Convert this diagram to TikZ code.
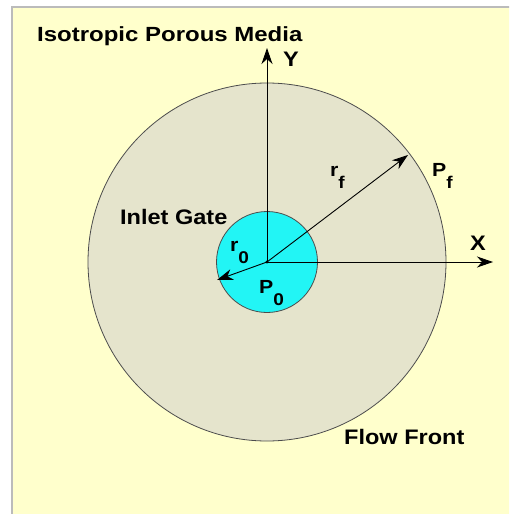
\documentclass[tikz,border=0pt]{standalone}
\usepackage{fontspec}
\setmainfont{Liberation Sans}
\newfontfamily\lblfont{Liberation Sans}[FakeStretch=1.12]
\newfontfamily\ttlfont{Liberation Sans}[FakeStretch=1.17]
\usetikzlibrary{arrows.meta}
\definecolor{bgyellow}{HTML}{FFFFCC}
\definecolor{frontfill}{HTML}{E5E4CC}
\definecolor{gatefill}{HTML}{22F5F5}
\definecolor{framegray}{HTML}{BBBBBB}
\tikzset{
  lbl/.style={font=\lblfont\bfseries\fontsize{21}{23}\selectfont, inner sep=0pt, anchor=base west},
  sym/.style={font=\lblfont\bfseries\fontsize{19}{21}\selectfont, inner sep=0pt, anchor=base west},
  axis/.style={line width=0.9pt, -{Stealth[length=16pt,width=11pt,inset=5pt]}},
  circ/.style={draw=black!70, line width=0.8pt}
}
\newcommand{\subb}[2]{#1\raisebox{-12pt}{\fontsize{17}{18}\selectfont #2}}
\begin{document}
\begin{tikzpicture}[x=1pt,y=-1pt]
\useasboundingbox (0,0) rectangle (509,514);
\fill[white] (0,0) rectangle (509,514);
\begin{scope}
\clip (0,0) rectangle (509,514);
\fill[bgyellow] (12,7) rectangle (520,525);
\draw[framegray, line width=2pt] (12,525) -- (12,7) -- (520,7);
\end{scope}
\coordinate (O) at (267,262);
\node[circ, circle, fill=frontfill, minimum size=358pt, inner sep=0pt] (front) at (O) {};
\node[circ, circle, fill=gatefill, minimum size=101pt, inner sep=0pt] (gate) at (O) {};
\coordinate (ytip) at (267,48);
\coordinate (xtip) at (493,262);
\coordinate (rftip) at (408,155);
\coordinate (r0tip) at (217,280);
\draw[axis] (O) -- (ytip);
\draw[axis] (O) -- (xtip);
\draw[axis] (O) -- (rftip);
\draw[axis] (O) -- (r0tip);
\fill (O) circle (1.6pt);
\node[lbl, font=\ttlfont\bfseries\fontsize{20.5}{23}\selectfont] (title) at (37,41) {Isotropic Porous Media};
\node[lbl] (ylbl) at (283,66.7) {Y};
\node[lbl] (xlbl) at (470,250) {X};
\node[sym] (rf) at (330,176) {\subb{r}{f}};
\node[sym] (pf) at (432,176) {\subb{P}{f}};
\node[lbl] (inlet) at (120,224.3) {Inlet Gate};
\node[sym] (r0) at (230,251.7) {\subb{r}{0}};
\node[sym] (p0) at (259,293.3) {\subb{P}{0}};
\node[lbl] (flow) at (344,444.3) {Flow Front};
\end{tikzpicture}
\end{document}
